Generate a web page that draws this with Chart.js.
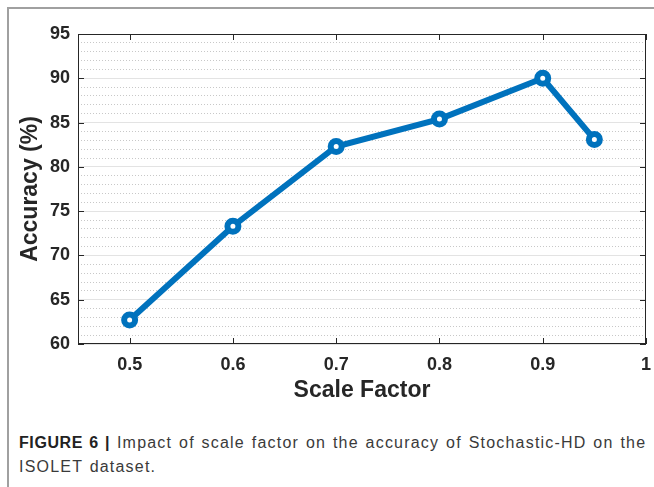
<!DOCTYPE html>
<html>
<head>
<meta charset="utf-8">
<script src="https://cdn.jsdelivr.net/npm/chart.js@4"></script>
<style>
  body { margin: 0; background: #fff; overflow: hidden; }
  #frame {
    position: absolute; left: 7px; top: 7px; width: 660px; height: 500px;
    border-top: 2px solid #a0a0a0; border-left: 2px solid #a0a0a0;
  }
  #wrap { position: absolute; left: 8px; top: 8px; width: 646px; height: 410px; }
  #caption {
    position: absolute; left: 19px; top: 431px; width: 640px;
    font-family: "Liberation Sans", Arial, sans-serif; font-size: 16px;
    letter-spacing: 1.2px; word-spacing: 1.2px; line-height: 24px; color: #3a3a3a;
    white-space: nowrap;
  }
  #caption b { color: #222; letter-spacing: 0.6px; }
</style>
</head>
<body>
<div id="frame"></div>
<div id="wrap"><canvas id="chart" width="646" height="410"></canvas></div>
<div id="caption"><b>FIGURE 6 |</b> Impact of scale factor on the accuracy of Stochastic-HD on the<br>ISOLET dataset.</div>

<script>
// data
const scaleFactors = [0.5, 0.6, 0.7, 0.8, 0.9, 0.95];
const accuracy = [62.7, 73.3, 82.3, 85.4, 90.0, 83.1];
const xTicks = [0.5, 0.6, 0.7, 0.8, 0.9, 1];

const font = "'Liberation Sans', Arial, Helvetica, sans-serif";
const axisColor = "#262626";

// matlab style box + inward tick marks
const boxPlugin = {
  id: "box",
  beforeDatasetsDraw(chart) {
    const { ctx, chartArea, scales } = chart;
    const { left, right, top, bottom } = chartArea;
    ctx.save();
    ctx.strokeStyle = axisColor;
    ctx.lineWidth = 1;
    ctx.strokeRect(left + 0.5, top + 0.5, right - left - 1, bottom - top - 1);

    ctx.beginPath();
    xTicks.forEach((v) => {
      const px = Math.round(scales.x.getPixelForValue(v)) + 0.5;
      ctx.moveTo(px, bottom);
      ctx.lineTo(px, bottom - 6);
      ctx.moveTo(px, top);
      ctx.lineTo(px, top + 6);
    });
    for (let v = 60; v <= 95; v += 5) {
      const py = Math.round(scales.y.getPixelForValue(v)) + 0.5;
      ctx.moveTo(left, py);
      ctx.lineTo(left + 6, py);
      ctx.moveTo(right, py);
      ctx.lineTo(right - 6, py);
    }
    ctx.stroke();
    ctx.restore();
  },
};

const ctx = document.getElementById("chart").getContext("2d");

new Chart(ctx, {
  type: "line",
  data: {
    datasets: [
      {
        data: scaleFactors.map((x, i) => ({ x: x, y: accuracy[i] })),
        borderColor: "#0072BD",
        borderWidth: 6,
        pointRadius: 5.5,
        pointBorderWidth: 6,
        pointBackgroundColor: "#ffffff",
        pointBorderColor: "#0072BD",
        tension: 0,
      },
    ],
  },
  options: {
    responsive: false,
    animation: false,
    layout: { autoPadding: false, padding: { left: 0, top: 26, right: 8, bottom: 0 } },
    plugins: {
      legend: { display: false },
      tooltip: { enabled: false },
    },
    scales: {
      x: {
        type: "linear",
        min: 0.45,
        max: 1,
        afterBuildTicks: (scale) => {
          scale.ticks = xTicks.map((v) => ({ value: v }));
        },
        afterFit: (scale) => {
          scale.height = 74;
          // let the "1" label hang into the right margin
          scale.paddingRight = 0;
          scale.paddingLeft = 0;
        },
        grid: { display: false, drawTicks: false },
        border: { display: false },
        ticks: {
          padding: 10,
          color: axisColor,
          font: { family: font, size: 18, weight: "bold" },
          callback: (v) => String(v),
        },
        title: {
          display: true,
          text: "Scale Factor",
          color: axisColor,
          padding: { top: 0, bottom: 14 },
          font: { family: font, size: 23, weight: "bold" },
        },
      },
      y: {
        min: 60,
        max: 95,
        afterFit: (scale) => {
          scale.width = 70;
        },
        grid: {
          drawTicks: false,
          lineWidth: 1,
          color: (c) => (c.tick && c.tick.value % 5 === 0 ? "#e3e3e3" : "#c8c8c8"),
        },
        border: {
          display: false,
          dash: (c) => (c.tick && c.tick.value % 5 === 0 ? [] : [1, 2]),
        },
        ticks: {
          stepSize: 1,
          autoSkip: false,
          padding: 8,
          color: axisColor,
          font: { family: font, size: 18, weight: "bold" },
          callback: (v) => (v % 5 === 0 ? v : ""),
        },
        title: {
          display: true,
          text: "Accuracy (%)",
          color: axisColor,
          padding: { top: 9, bottom: 0 },
          font: { family: font, size: 23, weight: "bold" },
        },
      },
    },
  },
  plugins: [boxPlugin],
});
</script>
</body>
</html>
